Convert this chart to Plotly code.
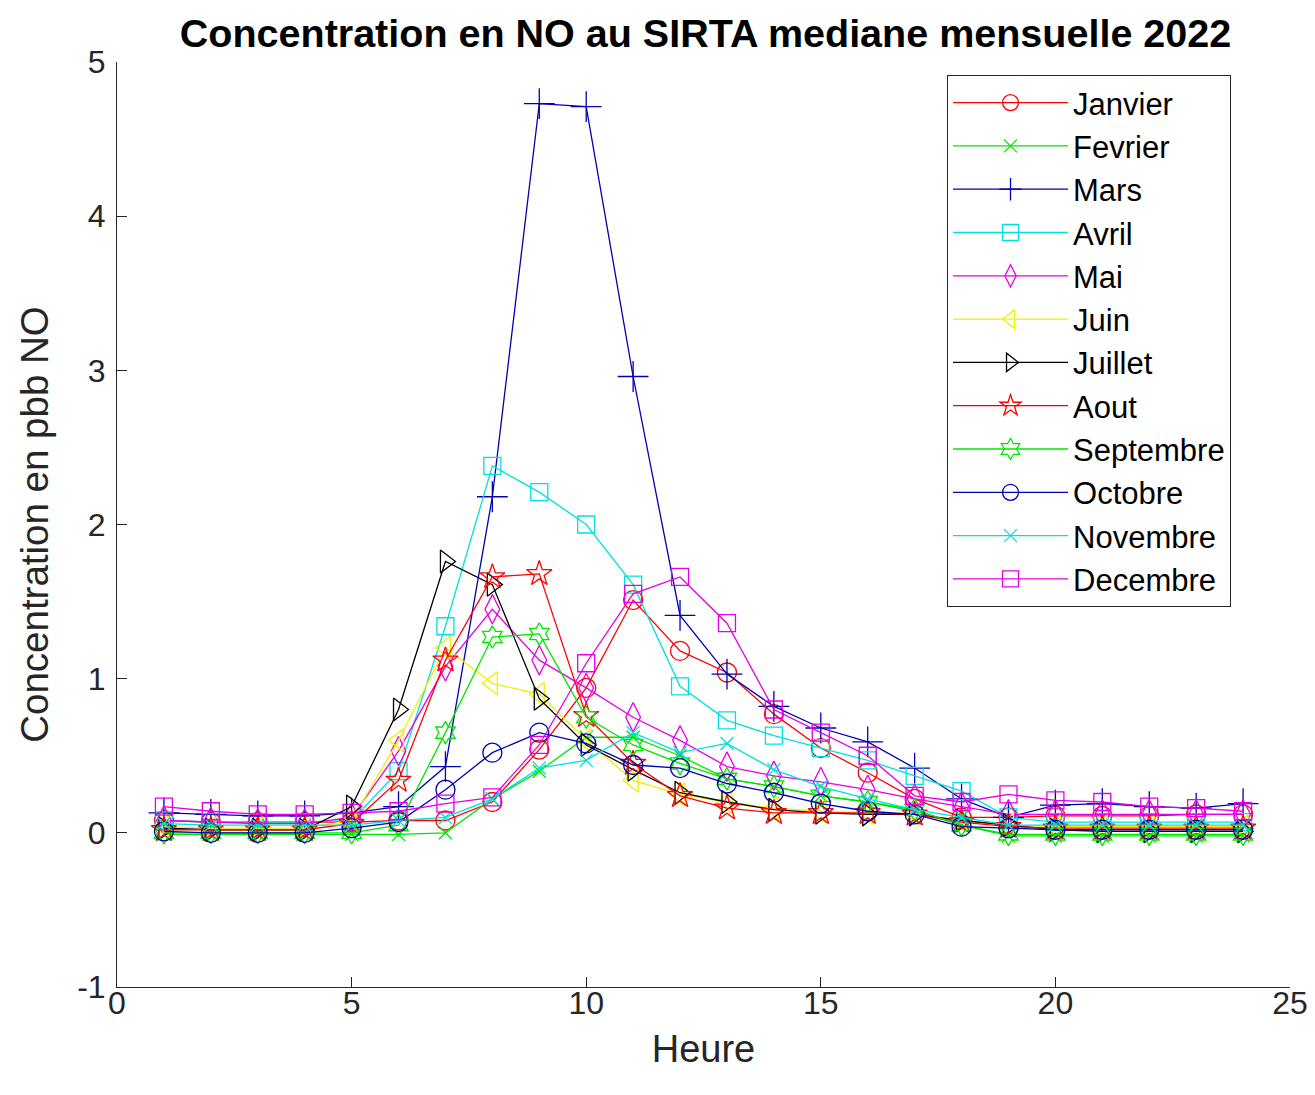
import plotly.graph_objects as go

heures = list(range(1, 25))

mois = ["Janvier", "Fevrier", "Mars", "Avril", "Mai", "Juin", "Juillet",
        "Aout", "Septembre", "Octobre", "Novembre", "Decembre"]

janvier = [0.08, 0.07, 0.07, 0.07, 0.07, 0.08, 0.08, 0.20, 0.54, 0.94, 1.51, 1.18,
           1.04, 0.77, 0.55, 0.39, 0.22, 0.10, 0.10, 0.11, 0.11, 0.11, 0.12, 0.12]
fevrier = [-0.01, -0.01, -0.01, -0.01, -0.01, -0.01, 0.00, 0.22, 0.40, 0.62, 0.62, 0.50,
           0.35, 0.30, 0.24, 0.20, 0.14, 0.05, -0.02, -0.02, -0.02, -0.02, -0.02, -0.02]
mars = [0.13, 0.12, 0.11, 0.11, 0.13, 0.17, 0.43, 2.18, 4.73, 4.71, 2.96, 1.41,
        1.03, 0.82, 0.68, 0.59, 0.42, 0.22, 0.10, 0.18, 0.19, 0.17, 0.16, 0.19]
avril = [0.08, 0.07, 0.07, 0.07, 0.08, 0.40, 1.34, 2.38, 2.21, 2.00, 1.61, 0.95,
         0.73, 0.63, 0.55, 0.47, 0.37, 0.27, 0.10, 0.07, 0.07, 0.07, 0.07, 0.07]
mai = [0.08, 0.07, 0.06, 0.06, 0.10, 0.53, 1.08, 1.45, 1.12, 0.94, 0.75, 0.60,
       0.43, 0.37, 0.33, 0.28, 0.22, 0.17, 0.12, 0.12, 0.12, 0.12, 0.12, 0.12]
juin = [0.04, 0.03, 0.03, 0.03, 0.08, 0.60, 1.20, 0.97, 0.90, 0.60, 0.34, 0.25,
        0.20, 0.16, 0.14, 0.13, 0.12, 0.08, 0.05, 0.04, 0.04, 0.04, 0.04, 0.04]
juillet = [0.03, 0.02, 0.02, 0.02, 0.17, 0.80, 1.76, 1.61, 0.87, 0.57, 0.41, 0.26,
           0.20, 0.15, 0.13, 0.12, 0.12, 0.08, 0.05, 0.02, 0.01, 0.01, 0.01, 0.01]
aout = [0.02, 0.02, 0.02, 0.02, 0.06, 0.34, 1.12, 1.66, 1.68, 0.76, 0.45, 0.24,
        0.16, 0.13, 0.13, 0.13, 0.12, 0.07, 0.04, 0.03, 0.03, 0.03, 0.03, 0.03]
septembre = [0.00, 0.00, 0.00, 0.00, 0.00, 0.05, 0.65, 1.27, 1.29, 0.75, 0.57, 0.45,
             0.35, 0.30, 0.24, 0.20, 0.15, 0.05, -0.01, -0.01, -0.01, -0.01, -0.01, -0.01]
octobre = [0.01, 0.00, 0.00, 0.00, 0.03, 0.07, 0.28, 0.52, 0.65, 0.58, 0.44, 0.42,
           0.32, 0.26, 0.19, 0.14, 0.12, 0.04, 0.03, 0.02, 0.02, 0.02, 0.02, 0.02]
novembre = [0.06, 0.05, 0.05, 0.05, 0.05, 0.08, 0.10, 0.22, 0.42, 0.47, 0.65, 0.52,
            0.58, 0.41, 0.30, 0.22, 0.15, 0.10, 0.05, 0.05, 0.05, 0.05, 0.05, 0.05]
decembre = [0.17, 0.14, 0.12, 0.12, 0.13, 0.14, 0.19, 0.23, 0.57, 1.10, 1.55, 1.66,
            1.36, 0.80, 0.65, 0.50, 0.24, 0.20, 0.25, 0.21, 0.20, 0.17, 0.16, 0.14]

series = [janvier, fevrier, mars, avril, mai, juin, juillet, aout,
          septembre, octobre, novembre, decembre]

couleurs = ["#FF0000", "#00E600", "#0000B4", "#00E0E0", "#E600E6", "#F0F000",
            "#000000", "#FF0000", "#00E600", "#0000B4", "#00E0E0", "#E600E6"]
symboles = ["circle-open", "x-thin-open", "cross-thin-open", "square-open",
            "diamond-tall-open", "triangle-left-open", "triangle-right-open",
            "star-open", "hexagram-open", "circle-open", "x-thin-open", "square-open"]
tailles = [19, 13, 22, 17, 21, 20, 20, 19, 17, 19, 13, 17]

y_ticks = [-1, 0, 1, 2, 3, 4, 5]
x_ticks = [0, 5, 10, 15, 20, 25]

fig = go.Figure()
for i, (nom, vals) in enumerate(zip(mois, series)):
    fig.add_trace(go.Scatter(
        x=heures, y=vals, name=nom, mode="lines+markers",
        legendgroup=nom,
        line=dict(color=couleurs[i], width=1.3),
        marker=dict(symbol=symboles[i], size=tailles[i], color=couleurs[i],
                    line=dict(color=couleurs[i], width=1.3)),
    ))

axis_color = "#262626"
font_family = "Liberation Sans, Arial, sans-serif"

fig.update_layout(
    width=1315, height=1095,
    margin=dict(l=117, r=25, t=62, b=108),
    paper_bgcolor="white", plot_bgcolor="white",
    font=dict(family=font_family, color=axis_color, size=32),
    title=dict(text="<b>Concentration en NO au SIRTA mediane mensuelle 2022</b>",
               x=0.5365, xanchor="center", y=0.9695, yanchor="middle",
               font=dict(size=39.5, color="#000000", family=font_family)),
    showlegend=True,
    legend=dict(x=0.7076, y=0.986, xanchor="left", yanchor="top",
                bgcolor="white", bordercolor=axis_color, borderwidth=1,
                font=dict(size=31, color="#000000", family=font_family),
                itemwidth=115, tracegroupgap=0,
                itemclick=False),
)

fig.update_xaxes(
    range=[0, 25], tickvals=x_ticks, ticktext=[str(v) for v in x_ticks],
    showgrid=False, zeroline=False, showline=True, linecolor=axis_color,
    linewidth=1, ticks="inside", ticklen=10, tickcolor=axis_color,
    tickfont=dict(size=32, color=axis_color), automargin=False,
    ticklabelstandoff=-12,
    title=dict(text="Heure", font=dict(size=38, color=axis_color), standoff=14),
)
fig.update_yaxes(
    range=[-1, 5], tickvals=y_ticks, ticktext=[str(v) for v in y_ticks],
    showgrid=False, zeroline=False, showline=True, linecolor=axis_color,
    linewidth=1, ticks="inside", ticklen=10, tickcolor=axis_color,
    tickfont=dict(size=32, color=axis_color), automargin=False,
    ticklabelstandoff=4,
    title=dict(text="Concentration en pbb NO", font=dict(size=38.5, color=axis_color),
               standoff=16),
)

fig.write_html("out.html")
